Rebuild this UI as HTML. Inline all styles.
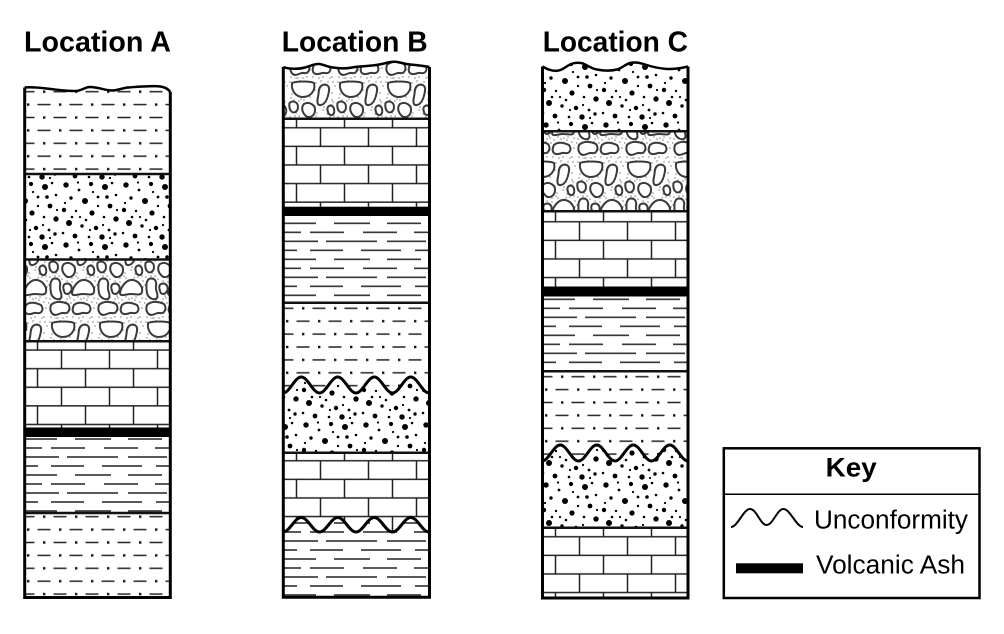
<!DOCTYPE html>
<html>
<head>
<meta charset="utf-8">
<style>
html,body{margin:0;padding:0;background:#fff;}
svg{display:block;}
text{font-family:"Liberation Sans",Arial,Helvetica,sans-serif;fill:#000;}
</style>
</head>
<body>
<svg width="1004" height="634" viewBox="0 0 1004 634" xmlns="http://www.w3.org/2000/svg">
<defs>
  <pattern id="silt" patternUnits="userSpaceOnUse" width="32" height="25.8">
    <rect width="32" height="25.8" fill="#fff"/>
    <rect x="19" y="5.25" width="2.4" height="2.4" fill="#111"/>
    <rect x="3" y="18.15" width="2.4" height="2.4" fill="#111"/>
    <path d="M29.5 6.45H32M0 6.45H10.5M13.5 19.35H26.5" stroke="#222" stroke-width="1.4"/>
  </pattern>
  <pattern id="shale" patternUnits="userSpaceOnUse" width="150" height="36">
    <rect width="150" height="36" fill="#fff"/>
    <path d="M1 4.5H33M51 4.5H87M104 4.5H138M1 13.5H18M27 13.5H61M80 13.5H114M131 13.5H150M1 22.5H35M43 22.5H94M104 22.5H143M1 31.5H14M27 31.5H60M78 31.5H118M132 31.5H150" stroke="#222" stroke-width="1.4"/>
  </pattern>
  <pattern id="lime" patternUnits="userSpaceOnUse" width="48" height="37.2">
    <rect width="48" height="37.2" fill="#fff"/>
    <path d="M0 8.5H48M0 27.1H48M13.5 0V8.5M37.5 8.5V27.1M13.5 27.1V37.2" stroke="#222" stroke-width="1.5"/>
  </pattern>
  <pattern id="sand" patternUnits="userSpaceOnUse" width="60" height="60">
    <rect width="60" height="60" fill="#fff"/>
    <g fill="#000">
      <circle cx="6" cy="5" r="2.7"/><circle cx="19" cy="10" r="1.4"/><circle cx="31" cy="4" r="2.1"/>
      <circle cx="45" cy="7" r="3"/><circle cx="56" cy="15" r="1.3"/><circle cx="11" cy="18" r="1.7"/>
      <circle cx="25" cy="21" r="3"/><circle cx="38" cy="17" r="1.4"/><circle cx="50" cy="26" r="2.4"/>
      <circle cx="4" cy="30" r="2.2"/><circle cx="16" cy="31" r="1.2"/><circle cx="32" cy="33" r="2.6"/>
      <circle cx="44" cy="37" r="1.3"/><circle cx="56" cy="39" r="2.7"/><circle cx="9" cy="43" r="3"/>
      <circle cx="22" cy="46" r="1.7"/><circle cx="36" cy="48" r="2.2"/><circle cx="49" cy="50" r="1.4"/>
      <circle cx="15" cy="56" r="2.4"/><circle cx="29" cy="57" r="1.3"/><circle cx="42" cy="57" r="2.7"/>
      <circle cx="55" cy="54" r="1.7"/><circle cx="3" cy="53" r="1.3"/><circle cx="38" cy="26" r="1.2"/>
      <circle cx="26" cy="40" r="1.3"/><circle cx="52" cy="3" r="1.3"/><circle cx="12" cy="37" r="1.3"/>
      <circle cx="47" cy="17" r="1.8"/><circle cx="18" cy="2.5" r="1.1"/><circle cx="33" cy="12" r="1.1"/>
      <circle cx="57" cy="30" r="1.1"/><circle cx="20" cy="37" r="1.1"/><circle cx="43" cy="45" r="1.1"/>
      <circle cx="5" cy="23" r="1.1"/><circle cx="30" cy="50" r="1.1"/><circle cx="50" cy="58" r="1.1"/>
    </g>
  </pattern>
  <pattern id="cong" patternUnits="userSpaceOnUse" width="48" height="80">
    <rect width="48" height="80" fill="#fff"/>
    <g fill="#555">
      <circle cx="2" cy="2" r=".65"/><circle cx="28" cy="3" r=".65"/><circle cx="45" cy="2" r=".65"/><circle cx="13" cy="19" r=".65"/>
      <circle cx="22" cy="17" r=".65"/><circle cx="44" cy="13" r=".65"/><circle cx="27" cy="27" r=".65"/><circle cx="8" cy="33" r=".65"/>
      <circle cx="35" cy="30" r=".65"/><circle cx="46" cy="36" r=".65"/><circle cx="2" cy="37" r=".65"/><circle cx="14" cy="39" r=".65"/>
      <circle cx="24" cy="38" r=".65"/><circle cx="30" cy="57" r=".65"/><circle cx="40" cy="57" r=".65"/><circle cx="46" cy="58" r=".65"/>
      <circle cx="2" cy="59" r=".65"/><circle cx="12" cy="60" r=".65"/><circle cx="22" cy="58" r=".65"/><circle cx="19" cy="77" r=".65"/>
      <circle cx="25" cy="77" r=".65"/><circle cx="44" cy="77" r=".65"/><circle cx="3" cy="77" r=".65"/><circle cx="10" cy="78" r=".65"/>
      <circle cx="35" cy="77" r=".65"/><circle cx="46" cy="68" r=".65"/><circle cx="23" cy="63" r=".65"/><circle cx="42" cy="37" r=".65"/>
      <circle cx="29" cy="33" r=".65"/><circle cx="36" cy="27" r=".65"/><circle cx="20" cy="8" r=".65"/><circle cx="4" cy="14" r=".65"/>
      <circle cx="40" cy="2" r=".65"/><circle cx="11" cy="36" r=".65"/><circle cx="21" cy="56" r=".65"/><circle cx="33" cy="59" r=".65"/>
      <circle cx="9" cy="62" r=".65"/><circle cx="47" cy="47" r=".65"/><circle cx="15" cy="78" r=".65"/><circle cx="22" cy="70" r=".65"/>
      <circle cx="44" cy="62" r=".65"/><circle cx="30" cy="38" r=".65"/><circle cx="6" cy="20" r=".65"/><circle cx="39" cy="34" r=".65"/>
      <circle cx="1" cy="45" r=".65"/><circle cx="18" cy="62" r=".65"/><circle cx="45" cy="22" r=".65"/><circle cx="27" cy="10" r=".65"/>
      <circle cx="16" cy="20" r=".65"/><circle cx="36" cy="58" r=".65"/><circle cx="29" cy="20" r=".65"/><circle cx="8" cy="78" r=".65"/>
      <circle cx="3" cy="18" r=".65"/><circle cx="11" cy="21" r=".65"/><circle cx="19" cy="41" r=".65"/><circle cx="26" cy="60" r=".65"/>
      <circle cx="42" cy="78" r=".65"/><circle cx="31" cy="78" r=".65"/><circle cx="47" cy="41" r=".65"/><circle cx="0.8" cy="63" r=".65"/>
      <circle cx="24" cy="42" r=".65"/><circle cx="38" cy="38" r=".65"/><circle cx="14" cy="57" r=".65"/><circle cx="44" cy="20" r=".65"/>
      <circle cx="28" cy="36" r=".65"/><circle cx="7" cy="36" r=".65"/><circle cx="33" cy="1" r=".65"/><circle cx="12" cy="0.8" r=".65"/>
      <circle cx="20" cy="23" r=".65"/><circle cx="47" cy="6" r=".65"/><circle cx="39" cy="60" r=".65"/><circle cx="19" cy="59" r=".65"/>
    </g>
    <g fill="#fff" stroke="#3a3a3a" stroke-width="2">
      <path d="M4,3 C9,1 22,1 26,3 C28,11 22,17 15,17 C8,17 3,11 4,3 Z"/>
      <path d="M33,6 C37,3 42,5 41,11 C40,17 38,24 33,25 C29,26 29,21 30,17 C31,13 30,9 33,6 Z"/>
      <path d="M1.5,23 C5,20 10,22 10,27 C10,32 5,34 3,31 C1.5,29 1,26 1.5,23 Z"/>
      <path d="M16,24 C21,21 28,25 27,31 C26,37 20,39 17,35 C14,32 13,27 16,24 Z"/>
      <path d="M24,53 C25,46 31,39 37,40 C43,41 47,47 46,52 C45,56 40,54 35,54 C30,54 24,57 24,53 Z"/>
      <path d="M5,39 C10,37 13,41 12,46 C11,51 15,54 13,58 C10,61 4,58 3,53 C2,47 2,41 5,39 Z"/>
      <path d="M17,44 C22,42 25,47 23,51 C21,55 17,55 16,51 C15,48 15,45 17,44 Z"/>
      <path d="M3,65 C8,60 16,62 20,64 C23,68 21,74 16,73 C13,72 11,75 7,75 C2.5,74 1.5,69 3,65 Z"/>
      <path d="M26,65 C30,61 37,63 41,65 C44,69 42,74 37,73 C34,72 31,75 28,74 C24,73 24,69 26,65 Z"/>
      <path d="M41,26 C44.5,24 46.5,28 46.2,32 C45.5,36 41,36 40,32 C39,29 39,27 41,26 Z"/>
    </g>
  </pattern>
</defs>

<rect width="1004" height="634" fill="#fff"/>

<!-- Titles -->
<text x="24" y="51.7" font-size="29" font-weight="bold" textLength="147" lengthAdjust="spacingAndGlyphs">Location A</text>
<text x="281.7" y="51.7" font-size="29" font-weight="bold" textLength="146" lengthAdjust="spacingAndGlyphs">Location B</text>
<text x="542.7" y="51.7" font-size="29" font-weight="bold" textLength="145.3" lengthAdjust="spacingAndGlyphs">Location C</text>

<!-- ================= Column A ================= -->
<g transform="translate(24,85.25)"><rect x="0" y="0" width="147" height="88.75" fill="url(#silt)"/></g>
<rect x="24" y="174" width="147" height="85" fill="url(#sand)"/>
<rect x="24" y="259" width="147" height="82.2" fill="url(#cong)"/>
<g transform="translate(24,341.5)"><rect x="0" y="-0.3" width="147" height="86.5" fill="url(#lime)"/></g>
<rect x="24" y="427.5" width="147" height="9.5" fill="#000"/>
<g transform="translate(24,434.5)"><rect x="0" y="2.5" width="147" height="75.5" fill="url(#shale)"/></g>
<g transform="translate(24,510.25)"><rect x="0" y="2" width="147" height="86" fill="url(#silt)"/></g>
<path d="M18,78 L18,87.5 L24.7,87.5 C40,86 58,91.5 76,91 C82,90.5 85,87 90,87 C98,87 105,90.5 112,90.5 C118,90.5 122,88 128,87.5 C138,86.7 150,85.8 158,86.2 C164,86.6 168,88.5 170.3,92 L176,92 L176,78 Z" fill="#fff"/>
<g stroke="#111" stroke-width="2.5">
  <path d="M24.7 174H170.3M24.7 259.5H170.3M24.7 341.2H170.3M24.7 513H170.3"/>
</g>
<path d="M24.7,87.5 C40,86 58,91.5 76,91 C82,90.5 85,87 90,87 C98,87 105,90.5 112,90.5 C118,90.5 122,88 128,87.5 C138,86.7 150,85.8 158,86.2 C164,86.6 168,88.5 170.3,92" fill="none" stroke="#000" stroke-width="2.5"/>
<path d="M24.7,87.5 V597.5 H170.3 V92" fill="none" stroke="#000" stroke-width="3"/>

<!-- ================= Column B ================= -->
<path d="M283.3,67 C288,69 298,69.5 305,67.5 C311,66 314,63.5 319,64 C324,64.5 327,67 333,67.5 C339,68.5 345,69 352,67.5 C360,66 372,66.5 382,64 C388,62.5 391,61.5 395,61.8 C401,62.3 404,64 410,64.5 C418,65.2 424,66 429.5,67 L429.5,118.7 L283.3,118.7 Z" fill="url(#cong)"/>
<g transform="translate(283,119.2)"><rect x="0" y="-0.5" width="147" height="88" fill="url(#lime)"/></g>
<rect x="283" y="206.7" width="147" height="9.3" fill="#000"/>
<g transform="translate(283,218.8)"><rect x="0" y="-2.8" width="147" height="87" fill="url(#shale)"/></g>
<g transform="translate(283,301.85)"><rect x="0" y="1" width="147" height="92" fill="url(#silt)"/></g>
<path d="M283,393 C289.6,393 294.65,377 301.25,377 C307.85,377 312.9,393 319.5,393 C326.1,393 331.15,377 337.75,377 C344.35,377 349.4,393 356,393 C362.6,393 367.65,377 374.25,377 C380.85,377 385.9,393 392.5,393 C399.1,393 404.15,377 410.75,377 C417.35,377 422.4,393 429,393 L429.5,452.8 L283,452.8 Z" fill="url(#sand)"/>
<g transform="translate(283,452.2)"><rect x="0" y="0.6" width="147" height="80" fill="url(#lime)"/></g>
<g transform="translate(283,518.5)">
  <path d="M0,13.5 C6.6,13.5 11.65,-1 18.25,-1 C24.85,-1 29.9,13.5 36.5,13.5 C43.1,13.5 48.15,-1 54.75,-1 C61.35,-1 66.4,13.5 73,13.5 C79.6,13.5 84.65,-1 91.25,-1 C97.85,-1 102.9,13.5 109.5,13.5 C116.1,13.5 121.15,-1 127.75,-1 C134.35,-1 139.4,13.5 146,13.5 L147,13.5 L147,79 L0,79 Z" fill="url(#shale)"/>
</g>
<g stroke="#111" stroke-width="2.5">
  <path d="M283.3 118.7H429.5M283.3 302.8H429.5M283.3 452.8H429.5"/>
</g>
<g fill="none" stroke="#000" stroke-width="3">
  <path d="M283,393 C289.6,393 294.65,377 301.25,377 C307.85,377 312.9,393 319.5,393 C326.1,393 331.15,377 337.75,377 C344.35,377 349.4,393 356,393 C362.6,393 367.65,377 374.25,377 C380.85,377 385.9,393 392.5,393 C399.1,393 404.15,377 410.75,377 C417.35,377 422.4,393 429,393"/>
  <path d="M283,532 C289.6,532 294.65,517.5 301.25,517.5 C307.85,517.5 312.9,532 319.5,532 C326.1,532 331.15,517.5 337.75,517.5 C344.35,517.5 349.4,532 356,532 C362.6,532 367.65,517.5 374.25,517.5 C380.85,517.5 385.9,532 392.5,532 C399.1,532 404.15,517.5 410.75,517.5 C417.35,517.5 422.4,532 429,532"/>
</g>
<path d="M283.3,67 C288,69 298,69.5 305,67.5 C311,66 314,63.5 319,64 C324,64.5 327,67 333,67.5 C339,68.5 345,69 352,67.5 C360,66 372,66.5 382,64 C388,62.5 391,61.5 395,61.8 C401,62.3 404,64 410,64.5 C418,65.2 424,66 429.5,67" fill="none" stroke="#000" stroke-width="2.5"/>
<path d="M283.3,67 V597.3 H429.5 V67" fill="none" stroke="#000" stroke-width="3"/>

<!-- ================= Column C ================= -->
<path d="M542.5,66.5 C547,69 551,71 557,70.8 C563,70.5 566,66 571,64 C575,62.5 579,62.3 583,63.5 C587,65 591,68.5 597,69.5 C603,70.7 611,71 617,69.5 C622,68 625,64.5 630,63 C634,62 639,62.5 645,64.5 C652,66.8 659,68.5 667,69 C675,69.3 682,68 688,66.5 L688,131.3 L542.5,131.3 Z" fill="url(#sand)"/>
<rect x="542" y="131.3" width="146.5" height="80" fill="url(#cong)"/>
<g transform="translate(542,213.2)"><rect x="0" y="-2" width="146.5" height="75.5" fill="url(#lime)"/></g>
<rect x="542" y="286.5" width="146.5" height="10" fill="#000"/>
<g transform="translate(542,294.8)"><rect x="0" y="1.7" width="146.5" height="74.7" fill="url(#shale)"/></g>
<g transform="translate(542,370.25)"><rect x="0" y="1" width="146.5" height="92" fill="url(#silt)"/></g>
<path d="M542,461 C548.6,461 553.65,445 560.25,445 C566.85,445 571.9,461 578.5,461 C585.1,461 590.15,445 596.75,445 C603.35,445 608.4,461 615,461 C621.6,461 626.65,445 633.25,445 C639.85,445 644.9,461 651.5,461 C658.1,461 663.15,445 669.75,445 C676.35,445 681.4,461 688,461 L688,527.8 L542,527.8 Z" fill="url(#sand)"/>
<g transform="translate(542,528.2)"><rect x="0" y="-0.4" width="146.5" height="70" fill="url(#lime)"/></g>
<g stroke="#111" stroke-width="2.5">
  <path d="M542.5 131.3H688M542.5 211.2H688M542.5 371.2H688M542.5 527.8H688"/>
</g>
<path d="M542,461 C548.6,461 553.65,445 560.25,445 C566.85,445 571.9,461 578.5,461 C585.1,461 590.15,445 596.75,445 C603.35,445 608.4,461 615,461 C621.6,461 626.65,445 633.25,445 C639.85,445 644.9,461 651.5,461 C658.1,461 663.15,445 669.75,445 C676.35,445 681.4,461 688,461" fill="none" stroke="#000" stroke-width="3"/>
<path d="M542.5,66.5 C547,69 551,71 557,70.8 C563,70.5 566,66 571,64 C575,62.5 579,62.3 583,63.5 C587,65 591,68.5 597,69.5 C603,70.7 611,71 617,69.5 C622,68 625,64.5 630,63 C634,62 639,62.5 645,64.5 C652,66.8 659,68.5 667,69 C675,69.3 682,68 688,66.5" fill="none" stroke="#000" stroke-width="2.5"/>
<path d="M542.5,66.5 V598 H688 V66.5" fill="none" stroke="#000" stroke-width="3"/>

<!-- ================= Key ================= -->
<rect x="723.8" y="448.3" width="255.7" height="149.7" fill="#fff" stroke="#000" stroke-width="2.5"/>
<line x1="723.8" y1="494.3" x2="979.5" y2="494.3" stroke="#000" stroke-width="1.5"/>
<text x="825.7" y="476.7" font-size="27" font-weight="bold" textLength="51" lengthAdjust="spacingAndGlyphs">Key</text>
<path d="M731,527 C737.5,527 743.5,509 750,509 C756.5,509 760.5,525 766.5,525 C773,525 777,509 783.5,509 C790,509 796.5,527 803,527" fill="none" stroke="#000" stroke-width="2"/>
<text x="814" y="528.3" font-size="25.5" textLength="154" lengthAdjust="spacingAndGlyphs">Unconformity</text>
<rect x="736" y="563.3" width="67" height="10" fill="#000"/>
<text x="816" y="573.3" font-size="25.5" textLength="149" lengthAdjust="spacingAndGlyphs">Volcanic Ash</text>
</svg>
</body>
</html>
